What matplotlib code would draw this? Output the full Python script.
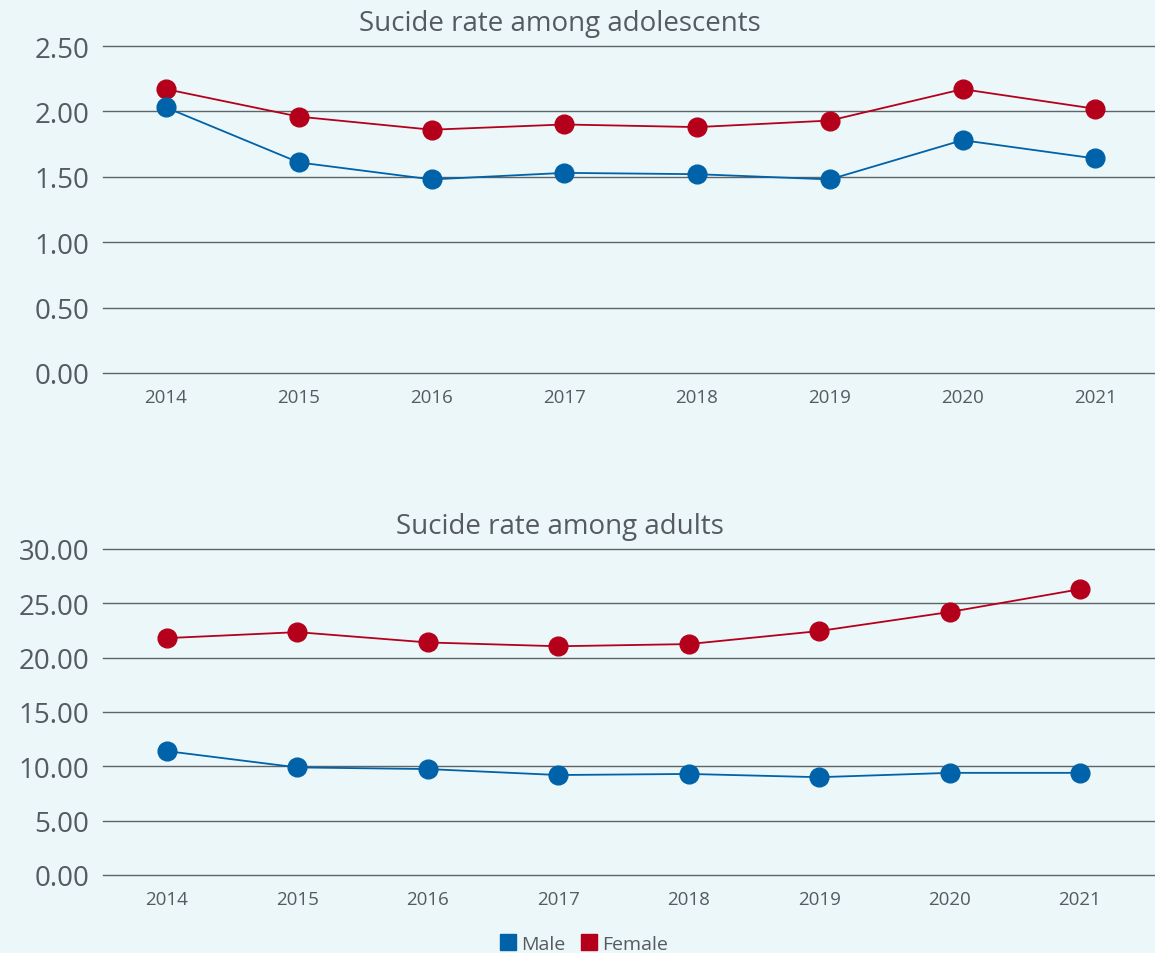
import matplotlib
matplotlib.use("Agg")
import matplotlib.pyplot as plt
from matplotlib.lines import Line2D

years = ["2014", "2015", "2016", "2017", "2018", "2019", "2020", "2021"]
adol_male = [2.03, 1.61, 1.48, 1.53, 1.52, 1.48, 1.78, 1.64]
adol_female = [2.17, 1.96, 1.86, 1.90, 1.88, 1.93, 2.17, 2.02]
adult_male = [11.4, 9.9, 9.75, 9.2, 9.3, 9.0, 9.4, 9.4]
adult_female = [21.8, 22.35, 21.4, 21.05, 21.25, 22.45, 24.2, 26.3]
titles = ["Sucide rate among adolescents", "Sucide rate among adults"]

MALE = "#0062A8"
FEMALE = "#B4001B"
BG = "#ECF7F9"
TXT = "#555B60"
GRID = "#5E6468"

plt.rcParams['font.family'] = ['Open Sans', 'DejaVu Sans']

fig = plt.figure(figsize=(11.55, 9.54), dpi=100)
fig.patch.set_facecolor(BG)

ax1 = fig.add_axes([103/1155, 1-374/954, 1-103/1155, (374-47)/954])
ax2 = fig.add_axes([103/1155, 1-876/954, 1-103/1155, (876-550)/954])

x = list(range(len(years)))

def style(ax, yticks, xlim):
    ax.set_facecolor(BG)
    for s in ax.spines.values():
        s.set_visible(False)
    ax.set_yticks(yticks)
    ax.set_yticklabels([f"{v:.2f}" for v in yticks])
    ax.set_ylim(yticks[0], yticks[-1])
    ax.grid(axis='y', color=GRID, linewidth=1.0)
    for gl in ax.get_ygridlines():
        gl.set_clip_on(False)
    ax.set_axisbelow(True)
    ax.tick_params(axis='y', length=0, labelsize=20, labelcolor=TXT, pad=10)
    ax.tick_params(axis='x', length=0, labelsize=13.5, labelcolor=TXT, pad=11)
    ax.set_xticks(x)
    ax.set_xticklabels(years)
    ax.set_xlim(*xlim)

for ax, m, f, yt, xl in [
    (ax1, adol_male, adol_female, [0, 0.5, 1.0, 1.5, 2.0, 2.5], (-0.475, 7.45)),
    (ax2, adult_male, adult_female, [0, 5, 10, 15, 20, 25, 30], (-0.49, 7.575)),
]:
    style(ax, yt, xl)
    ax.plot(x, f, color=FEMALE, lw=1.3, marker='o', markersize=13.5, clip_on=False, zorder=3)
    ax.plot(x, m, color=MALE, lw=1.3, marker='o', markersize=13.5, clip_on=False, zorder=3)

fig.text(560/1155, 1-24/954, titles[0], ha='center', va='center', fontsize=20, color=TXT)
fig.text(560/1155, 1-527/954, titles[1], ha='center', va='center', fontsize=20, color=TXT)

handles = [Line2D([], [], color=MALE, marker='s', linestyle='none', markersize=11),
           Line2D([], [], color=FEMALE, marker='s', linestyle='none', markersize=11)]
leg = fig.legend(handles, ["Male", "Female"], loc='center', bbox_to_anchor=(583/1155, 1-945/954),
                 ncol=2, frameon=False, fontsize=14, handletextpad=0.2, columnspacing=0.7,
                 handlelength=1.0)
for t in leg.get_texts():
    t.set_color(TXT)

fig.savefig("out.png", dpi=100, facecolor=BG)
